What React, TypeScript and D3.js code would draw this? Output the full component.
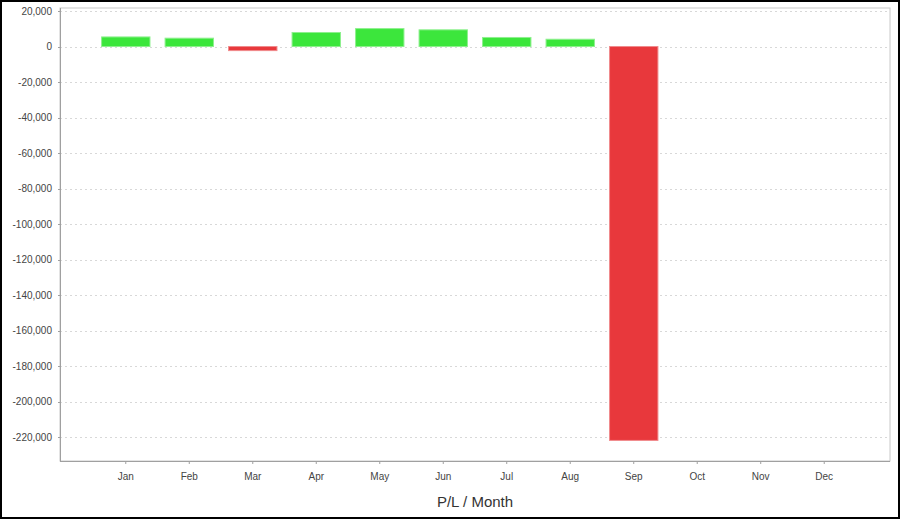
import React from "react";
import * as d3 from "d3";

const months = ["Jan", "Feb", "Mar", "Apr", "May", "Jun", "Jul", "Aug", "Sep", "Oct", "Nov", "Dec"];
const plValues: (number | null)[] = [5400, 4700, -2300, 7900, 10100, 9400, 5100, 4100, -221900, null, null, null];
const yTicks = [20000, 0, -20000, -40000, -60000, -80000, -100000, -120000, -140000, -160000, -180000, -200000, -220000];
const chartTitle = "P/L / Month";

const W = 900;
const H = 519;
const plot = { left: 60, right: 890, top: 8, bottom: 461 };

export default function App() {
  const vals = plValues.filter((v): v is number => v !== null);
  const vmax = Math.max(0, d3.max(vals) as number);
  const vmin = Math.min(0, d3.min(vals) as number);
  const span = vmax - vmin;
  const y = d3
    .scaleLinear()
    .domain([vmin - span * 0.05, vmax + span * 0.05])
    .range([plot.bottom, plot.top]);
  const x = d3
    .scaleBand<string>()
    .domain(months)
    .range([plot.left, plot.right])
    .paddingInner(0.238)
    .paddingOuter(0.655);
  const fmt0 = d3.format(",");
  const fmt = (v: number) => fmt0(v).replace("\u2212", "-");
  const font = "'Liberation Sans', Arial, sans-serif";

  return (
    <svg
      width={W}
      height={H}
      style={{ position: "fixed", left: 0, top: 0, display: "block", background: "#fff" }}
      fontFamily={font}
    >
      <rect x={0} y={0} width={W} height={H} fill="#fff" />
      {/* plot background and outline */}
      <rect
        x={plot.left}
        y={plot.top}
        width={plot.right - plot.left}
        height={plot.bottom - plot.top}
        fill="#fff"
        stroke="#c8c8c8"
        strokeWidth={1}
      />
      {/* gridlines */}
      {yTicks.map((t) => (
        <line
          key={"g" + t}
          x1={plot.left}
          x2={plot.right}
          y1={Math.round(y(t)) + 0.5}
          y2={Math.round(y(t)) + 0.5}
          stroke="#d8d8d8"
          strokeWidth={1}
          strokeDasharray="2,3"
        />
      ))}
      {/* bars */}
      {months.map((m, i) => {
        const v = plValues[i];
        if (v === null) return null;
        const y0 = y(0);
        const y1 = y(v);
        return (
          <rect
            key={"b" + m}
            x={x(m) as number}
            y={Math.min(y0, y1)}
            width={x.bandwidth()}
            height={Math.abs(y1 - y0)}
            fill={v >= 0 ? "#3ce63c" : "#e8383c"}
            stroke={v >= 0 ? "#8ef08e" : "#f08a8c"}
            strokeWidth={1}
          />
        );
      })}
      {/* axes */}
      <line x1={plot.left + 0.5} x2={plot.left + 0.5} y1={plot.top} y2={plot.bottom} stroke="#a0a0a0" strokeWidth={1} />
      <line x1={plot.left} x2={plot.right} y1={plot.bottom + 0.5} y2={plot.bottom + 0.5} stroke="#a0a0a0" strokeWidth={1} />
      {yTicks.map((t) => (
        <g key={"yt" + t}>
          <line
            x1={plot.left - 2}
            x2={plot.left}
            y1={Math.round(y(t)) + 0.5}
            y2={Math.round(y(t)) + 0.5}
            stroke="#a0a0a0"
          />
          <text x={plot.left - 8} y={y(t) + 3.5} textAnchor="end" fontSize={10} fill="#444">
            {fmt(t)}
          </text>
        </g>
      ))}
      {months.map((m) => {
        const cx = (x(m) as number) + x.bandwidth() / 2;
        return (
          <g key={"xt" + m}>
            <line x1={cx} x2={cx} y1={plot.bottom} y2={plot.bottom + 3} stroke="#a0a0a0" />
            <text x={cx} y={479.5} textAnchor="middle" fontSize={10} fill="#444">
              {m}
            </text>
          </g>
        );
      })}
      <text x={(plot.left + plot.right) / 2} y={507} textAnchor="middle" fontSize={15} fill="#333">
        {chartTitle}
      </text>
      {/* outer border */}
      <rect x={1} y={1} width={W - 2} height={H - 2} fill="none" stroke="#000" strokeWidth={2} />
    </svg>
  );
}
